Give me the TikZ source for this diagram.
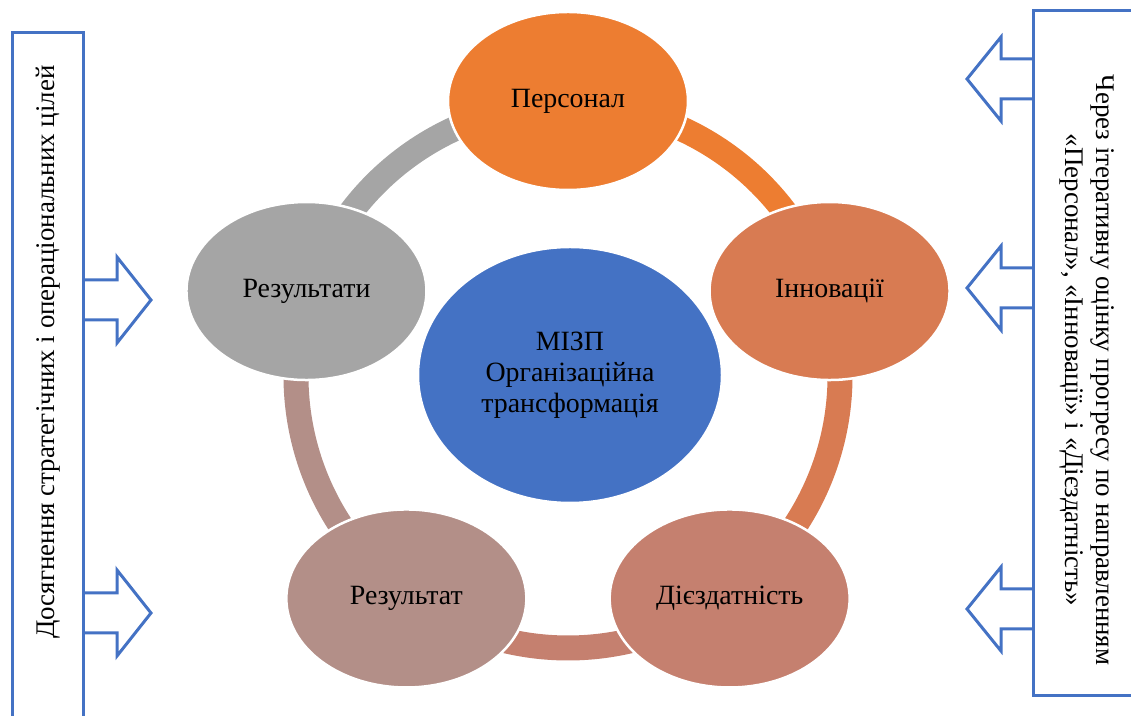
\documentclass[tikz,border=0pt]{standalone}
\usepackage{fontspec}
\setmainfont{Liberation Serif}
\usepackage{xcolor}
\usepackage{tikz}
\usetikzlibrary{shapes.geometric,positioning}
\definecolor{coreblue}{HTML}{4472C4}
\definecolor{perscol}{HTML}{ED7D31}
\definecolor{innovcol}{HTML}{D87B52}
\definecolor{capabcol}{HTML}{C5806F}
\definecolor{resultcol}{HTML}{B38F88}
\definecolor{resultscol}{HTML}{A5A5A5}

\begin{document}
\begin{tikzpicture}[x=1bp,y=1bp,
  phase/.style={ellipse,draw=white,line width=2.5bp,minimum width=240bp,minimum height=178bp,
    inner sep=0pt,align=center,font=\fontsize{28}{31}\selectfont},
  band/.style={line width=25bp},
  sidebox/.style={draw=coreblue,line width=3bp,inner sep=0pt,outer sep=0pt},
  sidetext/.style={align=center,font=\fontsize{27}{31}\selectfont},
  blockarrow/.style={draw=coreblue,line width=3bp,line join=miter}
]
\useasboundingbox (0,0) rectangle (1131,716);
\coordinate (hub) at (568,340);
% ring, one arc per phase
\foreach \a/\col in {90/perscol,18/innovcol,-54/capabcol,-126/resultcol,162/resultscol}
  \draw[band,\col] ([shift={(hub)}]\a:272) arc[start angle=\a,delta angle=-72,radius=272];
\node[phase,fill=perscol] (pers) at ([shift={(hub)}]90:275) {Персонал};
\node[phase,fill=innovcol] (innov) at ([shift={(hub)}]18:275) {Інновації};
\node[phase,fill=capabcol] (capab) at ([shift={(hub)}]-54:275) {Дієздатність};
\node[phase,fill=resultcol] (result) at ([shift={(hub)}]-126:275) {Результат};
\node[phase,fill=resultscol] (results) at ([shift={(hub)}]162:275) {Результати};
\node[phase,fill=coreblue,minimum width=304bp,minimum height=256bp] (core) at ([shift={(2,1)}]hub)
  {МІЗП\\Організаційна\\трансформація};
% side boxes
\node[sidebox,anchor=north west,minimum width=71bp,minimum height=720bp] (goals) at (12,683) {};
\node[sidebox,anchor=north west,minimum width=130bp,minimum height=684bp] (progress) at (1033,705) {};
\node[sidetext,rotate=90] (goalstext) at (48,364) {Досягнення стратегічних і операціональних цілей};
\node[sidetext,rotate=-90] (progresstext) at (1087,346)
  {Через ітеративну оцінку прогресу по направленням\\«Персонал», «Інновації» і «Дієздатність»};
% block arrows
\foreach \d in {247,560}
  \draw[blockarrow] (goals.north east) ++(0,-\d) -- ++(34,0) -- ++(0,23) -- ++(34,-43)
    -- ++(-34,-43) -- ++(0,23) -- ++(-34,0);
\foreach \d in {48,257,578}
  \draw[blockarrow] (progress.north west) ++(0,-\d) -- ++(-32,0) -- ++(0,22) -- ++(-34,-42)
    -- ++(34,-42) -- ++(0,22) -- ++(32,0);
\end{tikzpicture}
\end{document}
